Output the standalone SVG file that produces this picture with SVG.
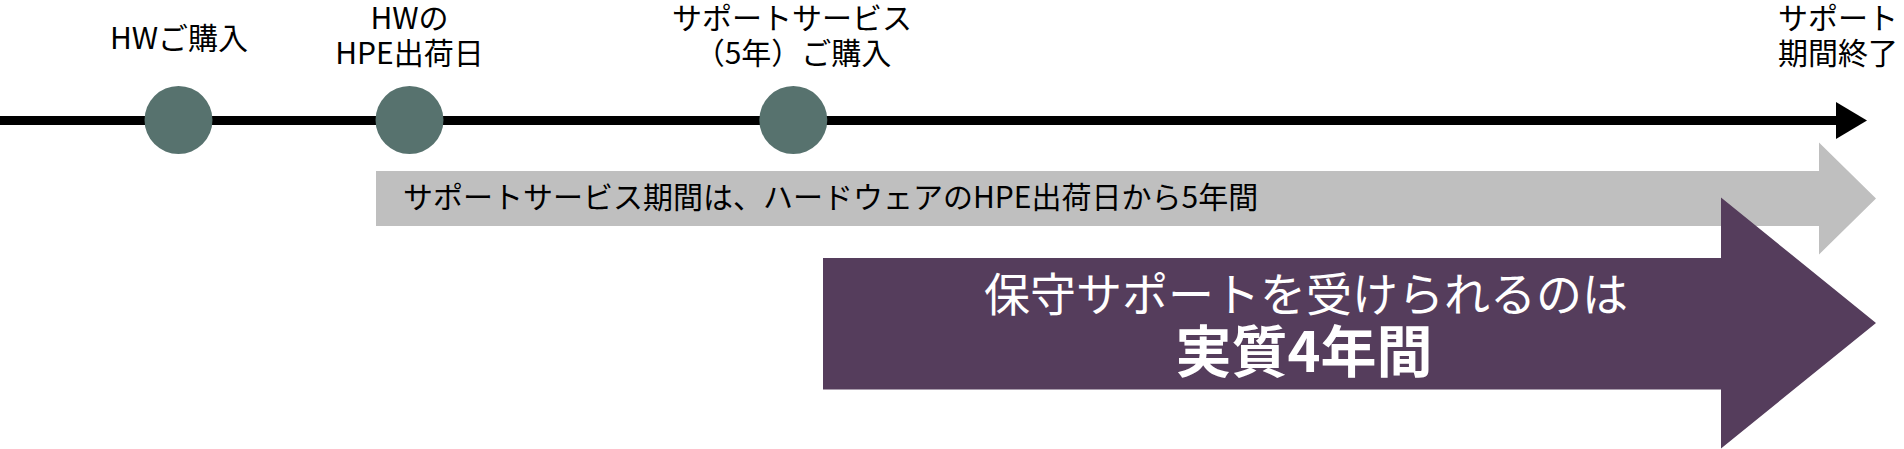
<svg xmlns="http://www.w3.org/2000/svg" width="1904" height="449" viewBox="0 0 1904 449">
  <style>
    text { font-family: "Noto Sans CJK JP", "Noto Sans", sans-serif; }
    .lbl { font-size: 30px; fill: #000000; text-anchor: middle; }
    .dot { fill: #57726E; }
    .band { font-size: 30px; fill: #000000; }
    .w1 { font-size: 46px; fill: #FFFFFF; }
    .w2 { font-size: 56px; font-weight: bold; fill: #FFFFFF; }
    .center { text-anchor: middle; }
  </style>
  <rect width="1904" height="449" fill="#FFFFFF"/>

  <g id="connectors">
    <rect x="0" y="116" width="1837" height="9" fill="#000000"/>
    <polygon points="1836,102 1867,120.5 1836,139" fill="#000000"/>
  </g>

  <g id="node-hw-purchase">
    <circle class="dot" cx="178.5" cy="120" r="34"/>
    <text class="lbl" x="179" y="49">HWご購入</text>
  </g>

  <g id="node-hpe-ship">
    <circle class="dot" cx="409.5" cy="120" r="34"/>
    <text class="lbl"><tspan x="409.5" y="29">HWの</tspan><tspan x="409.5" y="64">HPE出荷日</tspan></text>
  </g>

  <g id="node-service-purchase">
    <circle class="dot" cx="793.3" cy="120" r="34"/>
    <text class="lbl"><tspan x="792" y="29">サポートサービス</tspan><tspan x="793" y="64">（5年）ご購入</tspan></text>
  </g>

  <g id="node-support-end">
    <text class="lbl"><tspan x="1838" y="29">サポート</tspan><tspan x="1838" y="64">期間終了</tspan></text>
  </g>

  <g id="band-5years">
    <polygon points="376,171 1819,171 1819,142.5 1876,198.5 1819,254.5 1819,226 376,226" fill="#BFBFBF"/>
    <text class="band" x="403" y="208">サポートサービス期間は、ハードウェアのHPE出荷日から5年間</text>
  </g>

  <g id="band-4years">
    <polygon points="823,258 1721,258 1721,197.5 1876,323 1721,448.5 1721,389.5 823,389.5" fill="#553D5C"/>
    <text class="center"><tspan class="w1" x="1306" y="311">保守サポートを受けられるのは</tspan><tspan class="w2" x="1304" y="372">実質4年間</tspan></text>
  </g>
</svg>
